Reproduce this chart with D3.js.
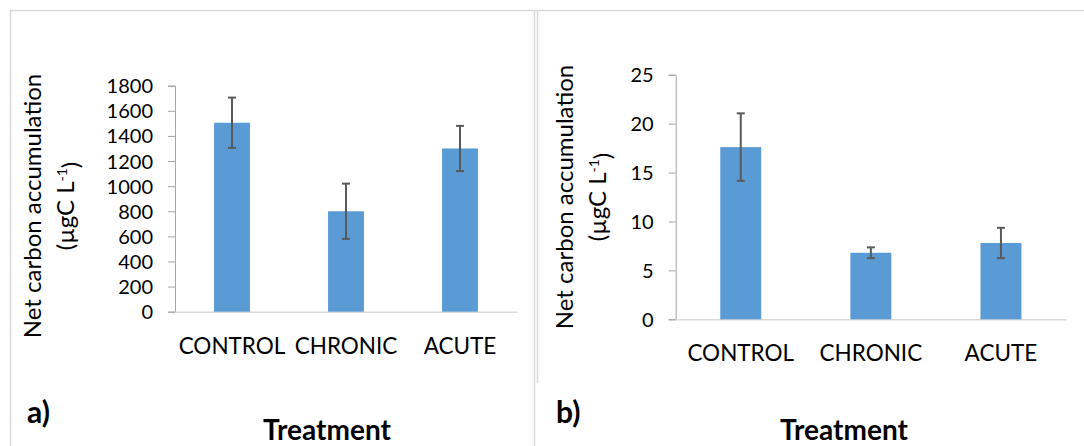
<!DOCTYPE html>
<html>
<head>
<meta charset="utf-8">
<script src="https://cdn.jsdelivr.net/npm/d3@7"></script>
<style>
  html, body { margin: 0; padding: 0; background: #fff; }
  svg { display: block; }
  text { font-family: Lato, "Open Sans", sans-serif; fill: #000; }
</style>
</head>
<body>
<svg id="chart" width="1084" height="446"></svg>
<script>
// ---- data ----
const categories = ["CONTROL", "CHRONIC", "ACUTE"];
const valuesA = [1505, 800, 1300];
const errorsA = [200, 220, 180];
const ticksA = [0, 200, 400, 600, 800, 1000, 1200, 1400, 1600, 1800];
const valuesB = [17.6, 6.8, 7.8];
const errorsB = [3.45, 0.55, 1.55];
const ticksB = [0, 5, 10, 15, 20, 25];
const yTitle1 = "Net carbon accumulation";
const xTitle = "Treatment";
const panelLabels = ["a)", "b)"];

const svg = d3.select("#chart");
const BAR = "#5B9BD5", ERR = "#595959", AXIS = "#A6A6A6", FRAME = "#D9D9D9";

// frames
svg.append("rect").attr("x", 10.5).attr("y", 10.5).attr("width", 524).attr("height", 460)
  .attr("fill", "none").attr("stroke", FRAME).attr("stroke-width", 1.5);
svg.append("line").attr("x1", 535).attr("x2", 1084).attr("y1", 10.5).attr("y2", 10.5)
  .attr("stroke", FRAME).attr("stroke-width", 1.5);
svg.append("line").attr("x1", 537.5).attr("x2", 537.5).attr("y1", 10).attr("y2", 383)
  .attr("stroke", FRAME).attr("stroke-width", 1.5);

function panel(cfg) {
  const x = d3.scaleBand().domain(categories).range([cfg.x0, cfg.x1]);
  const y = d3.scaleLinear().domain([0, cfg.max]).range([cfg.yb, cfg.yt]);
  const g = svg.append("g");

  // y axis
  const yAxis = d3.axisLeft(y).tickValues(cfg.ticks).tickSize(7).tickPadding(15).tickFormat(d3.format("d"));
  const ya = g.append("g").attr("transform", `translate(${cfg.x0},0)`).call(yAxis);
  ya.selectAll("path,line").attr("stroke", AXIS).attr("stroke-width", 1);
  ya.selectAll("text").style("font-size", "20px").attr("fill", "#000").attr("dy", "0.35em");

  // x axis line
  const xAxis = d3.axisBottom(x).tickSize(0).tickPadding(26);
  const xa = g.append("g").attr("transform", `translate(0,${cfg.yb})`).call(xAxis);
  xa.select("path").attr("stroke", "#D9D9D9").attr("stroke-width", 1.5);
  xa.selectAll("text").style("font-size", "22.5px").attr("fill", "#000");

  const bw = x.bandwidth() * 0.315;
  g.selectAll("rect.bar").data(cfg.values).join("rect").attr("class", "bar")
    .attr("x", (d, i) => x(categories[i]) + x.bandwidth() / 2 - bw / 2)
    .attr("width", bw)
    .attr("y", d => y(d))
    .attr("height", d => y(0) - y(d))
    .attr("fill", BAR);

  // error bars
  const eg = g.selectAll("g.err").data(cfg.values).join("g").attr("class", "err");
  eg.each(function(d, i) {
    const cx = x(categories[i]) + x.bandwidth() / 2;
    const e = cfg.errors[i];
    const s = d3.select(this);
    s.append("line").attr("x1", cx).attr("x2", cx).attr("y1", y(d + e)).attr("y2", y(d - e));
    s.append("line").attr("x1", cx - 4).attr("x2", cx + 4).attr("y1", y(d + e)).attr("y2", y(d + e));
    s.append("line").attr("x1", cx - 4).attr("x2", cx + 4).attr("y1", y(d - e)).attr("y2", y(d - e));
    s.selectAll("line").attr("stroke", ERR).attr("stroke-width", 2);
  });

  // y title
  const t = g.append("text").attr("transform", `translate(${cfg.t1x},${cfg.tcy}) rotate(-90)`)
    .attr("text-anchor", "middle").style("font-size", "24px");
  t.append("tspan").attr("x", 0).attr("y", 0).text(yTitle1);
  const t2 = g.append("text").attr("transform", `translate(${cfg.t2x},${cfg.tcy}) rotate(-90)`)
    .attr("text-anchor", "middle").style("font-size", "24px");
  t2.append("tspan").text("(µgC L");
  t2.append("tspan").attr("dy", "-0.5em").style("font-size", "14px").text("-1");
  t2.append("tspan").attr("dy", "0.5em").text(")");

  // x title
  g.append("text").attr("x", cfg.xtx).attr("y", 440).attr("text-anchor", "middle")
    .style("font-size", "28px").style("font-weight", "bold").text(xTitle);
  // panel label
  g.append("text").attr("x", cfg.lx).attr("y", 423)
    .style("font-size", "30px").style("font-weight", "bold").text(cfg.label);
}

panel({ x0: 175, x1: 517, yb: 311.7, yt: 85.7, max: 1800, ticks: ticksA,
  values: valuesA, errors: errorsA, t1x: 41, t2x: 74, tcy: 206, xtx: 327, lx: 27, label: panelLabels[0] });
panel({ x0: 675.7, x1: 1066, yb: 319.3, yt: 74.7, max: 25, ticks: ticksB,
  values: valuesB, errors: errorsB, t1x: 573, t2x: 606, tcy: 197, xtx: 844, lx: 556, label: panelLabels[1] });
</script>
</body>
</html>
